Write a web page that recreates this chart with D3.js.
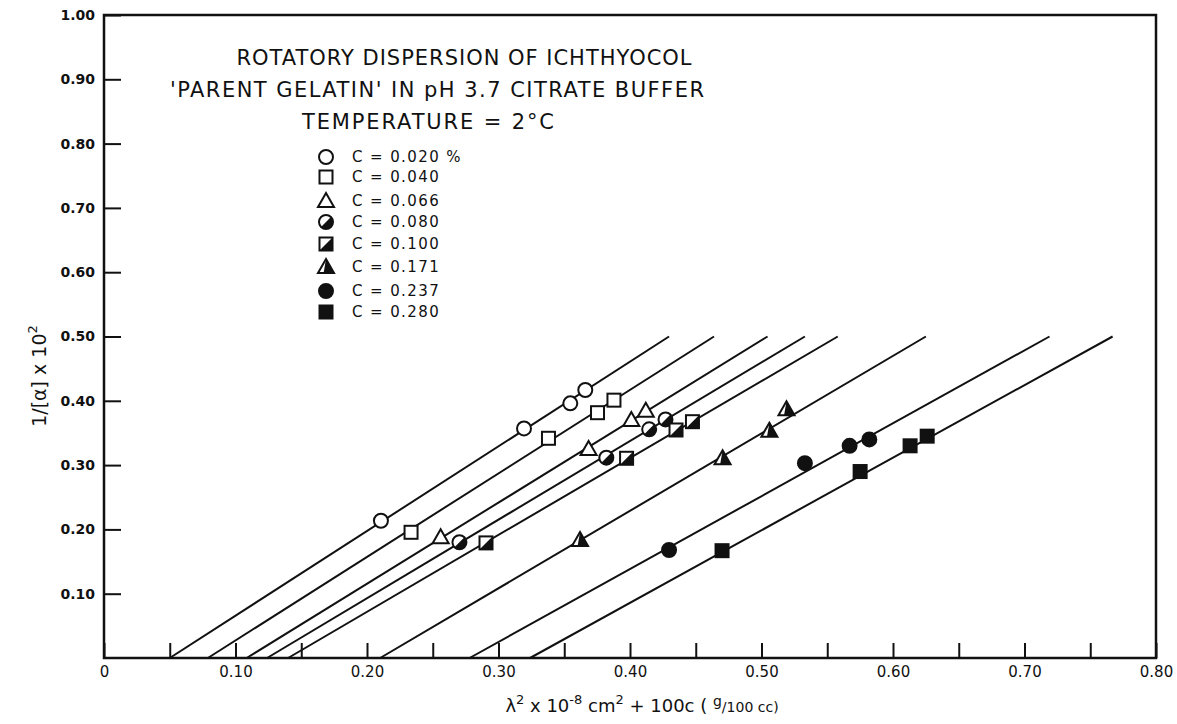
<!DOCTYPE html>
<html>
<head>
<meta charset="utf-8">
<script src="https://cdn.jsdelivr.net/npm/d3@7"></script>
<style>
  body { margin: 0; background: #fff; }
  text { fill: #111; }
</style>
</head>
<body>
<div id="chart"></div>
<script>
// rozmiar strony i obszar wykresu
var width = 1177
var height = 724

// dane
var concentrations = ["0.020 %", "0.040", "0.066", "0.080", "0.100", "0.171", "0.237", "0.280"]
var symbols = ["circle", "square", "triangle", "halfCircle", "halfSquare", "halfTriangle", "dot", "block"]

// proste: x przy y = 0 i x przy y = 0.50
var lineX0 = [0.050, 0.079, 0.1085, 0.124, 0.140, 0.210, 0.278, 0.324]
var lineX1 = [0.4297, 0.4639, 0.5046, 0.533, 0.558, 0.625, 0.719, 0.767]
var lineYTop = 0.50

// punkty pomiarowe dla kazdego stezenia
var pointsX = [
  [0.2106, 0.3194, 0.3546, 0.366],
  [0.2335, 0.338, 0.3753, 0.3878],
  [0.256, 0.3685, 0.401, 0.412],
  [0.2703, 0.382, 0.4146, 0.427],
  [0.2905, 0.3974, 0.435, 0.4475],
  [0.362, 0.4704, 0.506, 0.519],
  [0.4297, 0.533, 0.567, 0.582],
  [0.470, 0.575, 0.613, 0.626]
]
var pointsY = [
  [0.2135, 0.357, 0.396, 0.4168],
  [0.1955, 0.3417, 0.3815, 0.401],
  [0.1877, 0.325, 0.370, 0.3846],
  [0.180, 0.3115, 0.3557, 0.371],
  [0.179, 0.3106, 0.3546, 0.3675],
  [0.1835, 0.3106, 0.3535, 0.3868],
  [0.168, 0.303, 0.330, 0.340],
  [0.1669, 0.290, 0.330, 0.345]
]

// podzialki
var xTickValues = d3.range(0, 0.801, 0.05).map(function(d) { return +d.toFixed(2) })
var xTickLabels = ["0", "0.10", "0.20", "0.30", "0.40", "0.50", "0.60", "0.70", "0.80"]
var yTickValues = [0.1, 0.2, 0.3, 0.4, 0.5, 0.6, 0.7, 0.8, 0.9, 1.0]
var yTickLabels = ["0.10", "0.20", "0.30", "0.40", "0.50", "0.60", "0.70", "0.80", "0.90", "1.00"]

var titleLines = [
  "ROTATORY DISPERSION OF ICHTHYOCOL",
  "'PARENT GELATIN' IN pH 3.7 CITRATE BUFFER",
  "TEMPERATURE = 2°C"
]

var x = d3.scaleLinear().domain([0, 0.8]).range([104, 1156])
var y = d3.scaleLinear().domain([0, 1]).range([658, 15])

var svg = d3.select("#chart")
  .append("svg")
    .attr("width", width)
    .attr("height", height)
    .style("font-family", "'DejaVu Sans', sans-serif")

// ramka
svg.append("rect")
  .attr("x", x(0)).attr("y", y(1))
  .attr("width", x(0.8) - x(0)).attr("height", y(0) - y(1))
  .attr("fill", "none").attr("stroke", "#111").attr("stroke-width", 2.5)

// os X - kreski do srodka
var xAxis = svg.append("g")
  .attr("transform", "translate(0," + y(0) + ")")
  .call(d3.axisBottom(x)
    .tickValues(xTickValues)
    .tickSize(-15)
    .tickPadding(8)
    .tickFormat(function(d) {
      var i = Math.round(d * 10)
      return Math.abs(d * 10 - i) < 1e-6 ? xTickLabels[i] : ""
    }))
xAxis.select(".domain").remove()
xAxis.selectAll(".tick line").attr("stroke", "#111").attr("stroke-width", 2)
xAxis.selectAll(".tick text")
  .attr("font-size", 15).attr("font-family", "'DejaVu Sans', sans-serif")
  .attr("fill", "#111")

// os Y
var yAxis = svg.append("g")
  .attr("transform", "translate(" + x(0) + ",0)")
  .call(d3.axisLeft(y)
    .tickValues(yTickValues)
    .tickSize(-17)
    .tickPadding(9)
    .tickFormat(function(d, i) { return yTickLabels[i] }))
yAxis.select(".domain").remove()
yAxis.selectAll(".tick line").attr("stroke", "#111").attr("stroke-width", 2)
yAxis.selectAll(".tick text")
  .attr("font-size", 14).attr("font-weight", "bold")
  .attr("font-family", "'DejaVu Sans', sans-serif")
  .attr("fill", "#111")

// proste dopasowania
svg.append("g")
  .selectAll("line")
  .data(lineX0)
  .enter()
  .append("line")
    .attr("x1", function(d) { return x(d) })
    .attr("y1", y(0))
    .attr("x2", function(d, i) { return x(lineX1[i]) })
    .attr("y2", y(lineYTop))
    .attr("stroke", "#111")
    .attr("stroke-width", 2)

// rysowanie symboli
var r = 7
function drawSymbol(g, kind) {
  var a = r / Math.SQRT2
  var s = 6.5
  var tw = 8, th1 = 8, th2 = 6
  if (kind === "circle" || kind === "halfCircle" || kind === "dot") {
    g.append("circle").attr("r", r)
      .attr("fill", kind === "dot" ? "#111" : "#fff")
      .attr("stroke", "#111").attr("stroke-width", 2)
    if (kind === "halfCircle") {
      g.append("path")
        .attr("d", "M" + a + "," + (-a) + " A" + r + "," + r + " 0 0 1 " + (-a) + "," + a + " Z")
        .attr("fill", "#111")
    }
  } else if (kind === "square" || kind === "halfSquare" || kind === "block") {
    g.append("rect").attr("x", -s).attr("y", -s).attr("width", 2 * s).attr("height", 2 * s)
      .attr("fill", kind === "block" ? "#111" : "#fff")
      .attr("stroke", "#111").attr("stroke-width", 2)
    if (kind === "halfSquare") {
      g.append("path")
        .attr("d", "M" + s + "," + (-s) + " L" + s + "," + s + " L" + (-s) + "," + s + " Z")
        .attr("fill", "#111")
    }
  } else {
    g.append("path")
      .attr("d", "M0," + (-th1) + " L" + tw + "," + th2 + " L" + (-tw) + "," + th2 + " Z")
      .attr("fill", "#fff").attr("stroke", "#111").attr("stroke-width", 2)
      .attr("stroke-linejoin", "miter")
    if (kind === "halfTriangle") {
      g.append("path")
        .attr("d", "M0," + (-th1) + " L" + tw + "," + th2 + " L" + (-tw * 0.3) + "," + th2 + " Z")
        .attr("fill", "#111")
    }
  }
}

// punkty
concentrations.forEach(function(c, k) {
  var grp = svg.append("g")
  pointsX[k].forEach(function(px, j) {
    var g = grp.append("g")
      .attr("transform", "translate(" + x(px) + "," + y(pointsY[k][j]) + ")")
    drawSymbol(g, symbols[k])
  })
})

// legenda
var legendY = [157, 177, 201, 222, 244, 267, 291, 312]
var legend = svg.selectAll(".legend")
  .data(concentrations)
  .enter()
  .append("g")
    .attr("class", "legend")
    .attr("transform", function(d, i) { return "translate(326," + legendY[i] + ")" })
legend.each(function(d, i) { drawSymbol(d3.select(this), symbols[i]) })
legend.append("text")
  .attr("x", 26)
  .attr("y", 0)
  .attr("dy", "0.36em")
  .attr("font-size", 15)
  .attr("letter-spacing", 1.4)
  .text(function(d) { return "C = " + d })

// tytul
var titleY = [57, 89, 121]
var titleX = [464, 437, 428]
var titleLen = [455, 534, 252]
svg.append("g")
  .selectAll("text")
  .data(titleLines)
  .enter()
  .append("text")
    .attr("x", function(d, i) { return titleX[i] })
    .attr("y", function(d, i) { return titleY[i] })
    .attr("dy", "0.36em")
    .attr("text-anchor", "middle")
    .attr("font-size", 21)
    .attr("textLength", function(d, i) { return titleLen[i] })
    .attr("lengthAdjust", "spacing")
    .text(function(d) { return d })

// opis osi Y
var yLabel = svg.append("text")
  .attr("transform", "translate(46,376) rotate(-90)")
  .attr("text-anchor", "middle")
  .attr("font-size", 19)
yLabel.append("tspan").text("1/[α]  x 10")
yLabel.append("tspan").attr("dy", -9).attr("font-size", 13).text("2")

// opis osi X
var xLabel = svg.append("text")
  .attr("x", 642)
  .attr("y", 712)
  .attr("text-anchor", "middle")
  .attr("font-size", 18)
xLabel.append("tspan").text("λ")
xLabel.append("tspan").attr("dy", -8).attr("font-size", 13).text("2")
xLabel.append("tspan").attr("dy", 8).text(" x 10")
xLabel.append("tspan").attr("dy", -8).attr("font-size", 13).text("-8")
xLabel.append("tspan").attr("dy", 8).text(" cm")
xLabel.append("tspan").attr("dy", -8).attr("font-size", 13).text("2")
xLabel.append("tspan").attr("dy", 8).text(" + 100c ( ")
xLabel.append("tspan").attr("dy", -6).attr("font-size", 14).text("g")
xLabel.append("tspan").attr("dy", 6).attr("font-size", 14).text("/100 cc)")
</script>
</body>
</html>
